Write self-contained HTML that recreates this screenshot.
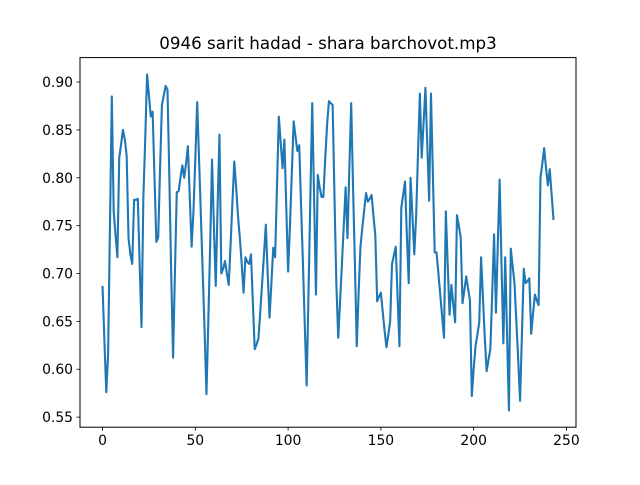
<!DOCTYPE html>
<html><head><meta charset="utf-8"><style>
html,body{margin:0;padding:0;background:#fff;}
svg text{font-family:"DejaVu Sans","Liberation Sans",sans-serif;fill:#000;}
</style></head><body>
<svg id="chart" width="640" height="480" viewBox="0 0 640 480" xmlns="http://www.w3.org/2000/svg">
<rect width="640" height="480" fill="#fff"/>
<text x="328" y="49" font-size="16.7" text-anchor="middle">0946 sarit hadad - shara barchovot.mp3</text>
<g id="ticks"></g>
<path id="series" fill="none" stroke="#1f77b4" stroke-width="2.1" stroke-linejoin="round" stroke-linecap="square"/>
<rect x="80" y="57.6" width="496" height="369.6" fill="none" stroke="#000" stroke-width="1"/>
</svg>
<script>
const values = [0.686,0.63,0.576,0.616,0.75,0.885,0.765,0.74,0.717,0.821,0.835,0.85,0.84,0.823,0.737,0.72,0.71,0.777,0.777,0.778,0.71,0.644,0.78,0.84,0.908,0.886,0.864,0.869,0.80,0.733,0.738,0.81,0.876,0.886,0.896,0.892,0.80,0.70,0.612,0.70,0.785,0.786,0.80,0.813,0.80,0.815,0.833,0.78,0.728,0.765,0.82,0.879,0.82,0.76,0.70,0.64,0.574,0.65,0.73,0.819,0.75,0.687,0.77,0.845,0.70,0.705,0.713,0.70,0.688,0.73,0.775,0.817,0.79,0.76,0.737,0.71,0.68,0.717,0.712,0.71,0.72,0.67,0.621,0.626,0.632,0.66,0.69,0.72,0.751,0.70,0.654,0.69,0.727,0.717,0.79,0.864,0.837,0.81,0.84,0.77,0.702,0.75,0.805,0.859,0.843,0.828,0.834,0.77,0.71,0.645,0.583,0.68,0.78,0.878,0.78,0.678,0.803,0.79,0.78,0.78,0.82,0.855,0.88,0.878,0.876,0.78,0.689,0.633,0.67,0.71,0.75,0.79,0.737,0.81,0.878,0.79,0.71,0.624,0.68,0.728,0.748,0.766,0.784,0.775,0.778,0.782,0.76,0.74,0.671,0.676,0.68,0.66,0.64,0.623,0.636,0.65,0.71,0.719,0.728,0.676,0.624,0.769,0.782,0.796,0.74,0.69,0.8,0.76,0.72,0.76,0.825,0.888,0.821,0.857,0.894,0.835,0.776,0.888,0.805,0.722,0.722,0.70,0.678,0.655,0.633,0.765,0.71,0.657,0.688,0.668,0.649,0.761,0.75,0.738,0.669,0.683,0.697,0.684,0.672,0.572,0.60,0.624,0.636,0.649,0.717,0.675,0.632,0.598,0.61,0.621,0.68,0.741,0.659,0.73,0.798,0.71,0.627,0.717,0.637,0.557,0.726,0.708,0.69,0.65,0.61,0.567,0.636,0.705,0.69,0.692,0.695,0.637,0.658,0.678,0.672,0.667,0.80,0.815,0.831,0.81,0.792,0.809,0.783,0.757];
const xTicks = [0,50,100,150,200,250];
const yTicks = [0.55,0.60,0.65,0.70,0.75,0.80,0.85,0.90];
const yTickLabels = ["0.55","0.60","0.65","0.70","0.75","0.80","0.85","0.90"];

const L=80,R=576,T=57.6,B=427.2;
const n=values.length;
const xr=(n-1)*0.05, xmin=-xr, xmax=n-1+xr;
const vmin=Math.min(...values), vmax=Math.max(...values), yr=(vmax-vmin)*0.05;
const ymin=vmin-yr, ymax=vmax+yr;
const sx=v=>L+(v-xmin)/(xmax-xmin)*(R-L);
const sy=v=>B-(v-ymin)/(ymax-ymin)*(B-T);
const NS="http://www.w3.org/2000/svg";
const g=document.getElementById('ticks');
function mk(tag,attrs){const e=document.createElementNS(NS,tag);for(const k in attrs)e.setAttribute(k,attrs[k]);g.appendChild(e);return e;}
xTicks.forEach(t=>{
  const x=sx(t);
  const tk=mk('line',{x1:x,x2:x,y1:B,y2:B+3.5,stroke:'#000','stroke-width':0.8});
  
  
  const lb=mk('text',{x:x,y:B+18,'font-size':13.9,'text-anchor':'middle'});
  
  
  lb.textContent=String(t);
});
yTicks.forEach((t,i)=>{
  const y=sy(t);
  const tk=mk('line',{x1:L-3.5,x2:L,y1:y,y2:y,stroke:'#000','stroke-width':0.8});
  
  
  const lb=mk('text',{x:L-7,y:y+5,'font-size':13.9,'text-anchor':'end'});
  
  
  lb.textContent=yTickLabels[i];
});
document.getElementById('series').setAttribute('d',values.map((v,i)=>(i?'L':'M')+sx(i).toFixed(2)+','+sy(v).toFixed(2)).join(''));
</script>
</body></html>
